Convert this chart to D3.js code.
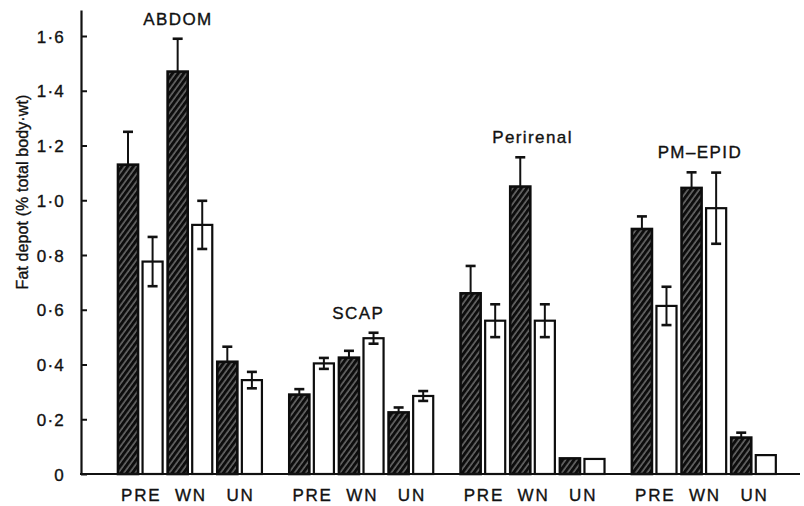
<!DOCTYPE html>
<html><head><meta charset="utf-8">
<script src="https://cdn.jsdelivr.net/npm/d3@7/dist/d3.min.js"></script>
<style>
html,body{margin:0;padding:0;background:#fff;}
svg text{font-family:"Liberation Sans",Arial,Helvetica,sans-serif;fill:#111;stroke:#111;stroke-width:0.35px;}
</style></head>
<body>
<svg id="chart" width="804" height="506"></svg>
<script>
// ---- data ----
const groups = ["ABDOM", "SCAP", "Perirenal", "PM\u2013EPID"];
const conditions = ["PRE", "WN", "UN"];
const series = ["hatched", "open"];
// hatched-bar means / SE per group (PRE, WN, UN)
const hatchedMeans = [[1.13, 1.47, 0.41], [0.29, 0.425, 0.225], [0.66, 1.05, 0.057], [0.895, 1.045, 0.133]];
const hatchedSE    = [[0.12, 0.12, 0.055], [0.02, 0.025, 0.018], [0.10, 0.107, 0], [0.046, 0.057, 0.018]];
// open-bar means / SE per group (PRE, WN, UN)
const openMeans = [[0.776, 0.91, 0.343], [0.404, 0.496, 0.285], [0.56, 0.56, 0.055], [0.614, 0.971, 0.069]];
const openSE    = [[0.09, 0.088, 0.03], [0.02, 0.02, 0.018], [0.06, 0.06, 0], [0.07, 0.13, 0]];
const yTicks = [0, 0.2, 0.4, 0.6, 0.8, 1.0, 1.2, 1.4, 1.6];
const yTickLabels = ["0", "0\u00b72", "0\u00b74", "0\u00b76", "0\u00b78", "1\u00b70", "1\u00b72", "1\u00b74", "1\u00b76"];
const yTitle = "Fat depot (% total body\u00b7wt)";

// ---- build rows ----
const rows = [];
groups.forEach((g, gi) => conditions.forEach((c, ci) => {
  rows.push({g, c, s: "hatched", v: hatchedMeans[gi][ci], e: hatchedSE[gi][ci]});
  rows.push({g, c, s: "open", v: openMeans[gi][ci], e: openSE[gi][ci]});
}));

const svg = d3.select("#chart");
const x0 = 81, yBase = 474;

const y = d3.scaleLinear().domain([0, 1.695]).range([yBase, yBase - 1.695 * 273.75]);
const xGroup = d3.scaleBand().domain(groups).range([104.3, 789.5]).paddingInner(0.148).paddingOuter(0.074);
const xCond = d3.scaleBand().domain(conditions).range([0, xGroup.bandwidth()]).paddingInner(0.0606).paddingOuter(0);
const xSer = d3.scaleBand().domain(series).range([0, xCond.bandwidth()]).paddingInner(0.102).paddingOuter(0);

// hatch pattern
const defs = svg.append("defs");
const pat = defs.append("pattern").attr("id", "hatch").attr("patternUnits", "userSpaceOnUse")
  .attr("width", 4.6).attr("height", 4.6).attr("patternTransform", "rotate(36)");
pat.append("rect").attr("width", 4.6).attr("height", 4.6).attr("fill", "#0d0d0d");
pat.append("line").attr("x1", 1).attr("x2", 1).attr("y1", 0).attr("y2", 4.6)
  .attr("stroke", "#d0d0d0").attr("stroke-width", 0.75);

const bx = d => xGroup(d.g) + xCond(d.c) + xSer(d.s);

// bars
svg.append("g").selectAll("rect").data(rows).join("rect")
  .attr("x", d => bx(d) + 1)
  .attr("y", d => y(d.v))
  .attr("width", xSer.bandwidth() - 2)
  .attr("height", d => y(0) - y(d.v))
  .attr("fill", d => d.s === "hatched" ? "url(#hatch)" : "#fff")
  .attr("stroke", "#0d0d0d")
  .attr("stroke-width", d => d.s === "hatched" ? 2.6 : 2.2);

// error bars
const eb = svg.append("g").selectAll("g").data(rows.filter(d => d.e > 0)).join("g")
  .attr("transform", d => `translate(${bx(d) + xSer.bandwidth() / 2},0)`);
eb.append("line").attr("x1", 0).attr("x2", 0)
  .attr("y1", d => y(d.s === "hatched" ? d.v : d.v - d.e)).attr("y2", d => y(d.v + d.e))
  .attr("stroke", "#111").attr("stroke-width", 2);
eb.append("line").attr("x1", -5).attr("x2", 5)
  .attr("y1", d => y(d.v + d.e)).attr("y2", d => y(d.v + d.e))
  .attr("stroke", "#111").attr("stroke-width", 2.6);
eb.filter(d => d.s === "open").append("line").attr("x1", -5).attr("x2", 5)
  .attr("y1", d => y(d.v - d.e)).attr("y2", d => y(d.v - d.e))
  .attr("stroke", "#111").attr("stroke-width", 2.6);

// y axis
const yAxis = d3.axisLeft(y).tickValues(yTicks)
  .tickFormat((d, i) => yTickLabels[i]).tickSizeInner(-6).tickSizeOuter(0).tickPadding(16);
const ya = svg.append("g").attr("transform", `translate(${x0},0)`).call(yAxis);
ya.select(".domain").attr("stroke", "#111").attr("stroke-width", 2.2);
ya.selectAll(".tick line").attr("stroke", "#111").attr("stroke-width", 2);
ya.selectAll(".tick text").attr("font-size", 17).attr("letter-spacing", 1.2).attr("dy", "0.36em")
  .attr("font-family", "Liberation Sans, Arial, sans-serif").attr("fill", "#111");

// baseline
svg.append("line").attr("x1", x0 - 1).attr("x2", 800).attr("y1", y(0)).attr("y2", y(0))
  .attr("stroke", "#111").attr("stroke-width", 2.2);

// y title
svg.append("text").attr("transform", `translate(28,${(y(0) + y(1.695)) / 2 - 50}) rotate(-90)`)
  .attr("text-anchor", "middle").attr("font-size", 16).attr("letter-spacing", 0.1).text(yTitle);

// x labels
const xl = svg.append("g");
groups.forEach(g => conditions.forEach(c => {
  xl.append("text").attr("x", xGroup(g) + xCond(c) + xCond.bandwidth() / 2 + 1).attr("y", 501)
    .attr("text-anchor", "middle").attr("font-size", 17).attr("letter-spacing", 1.8).text(c);
}));

// group labels, placed above the tallest error bar of each group
const labelDx = [-12, -3, 0, -4];
groups.forEach((g, gi) => {
  const top = d3.max(rows.filter(d => d.g === g), d => d.v + d.e);
  svg.append("text")
    .attr("x", xGroup(g) + xCond("WN") + xCond.bandwidth() / 2 + labelDx[gi])
    .attr("y", y(top) - 14)
    .attr("text-anchor", "middle").attr("font-size", 17).attr("letter-spacing", 1.4).text(g);
});
</script>
</body></html>
